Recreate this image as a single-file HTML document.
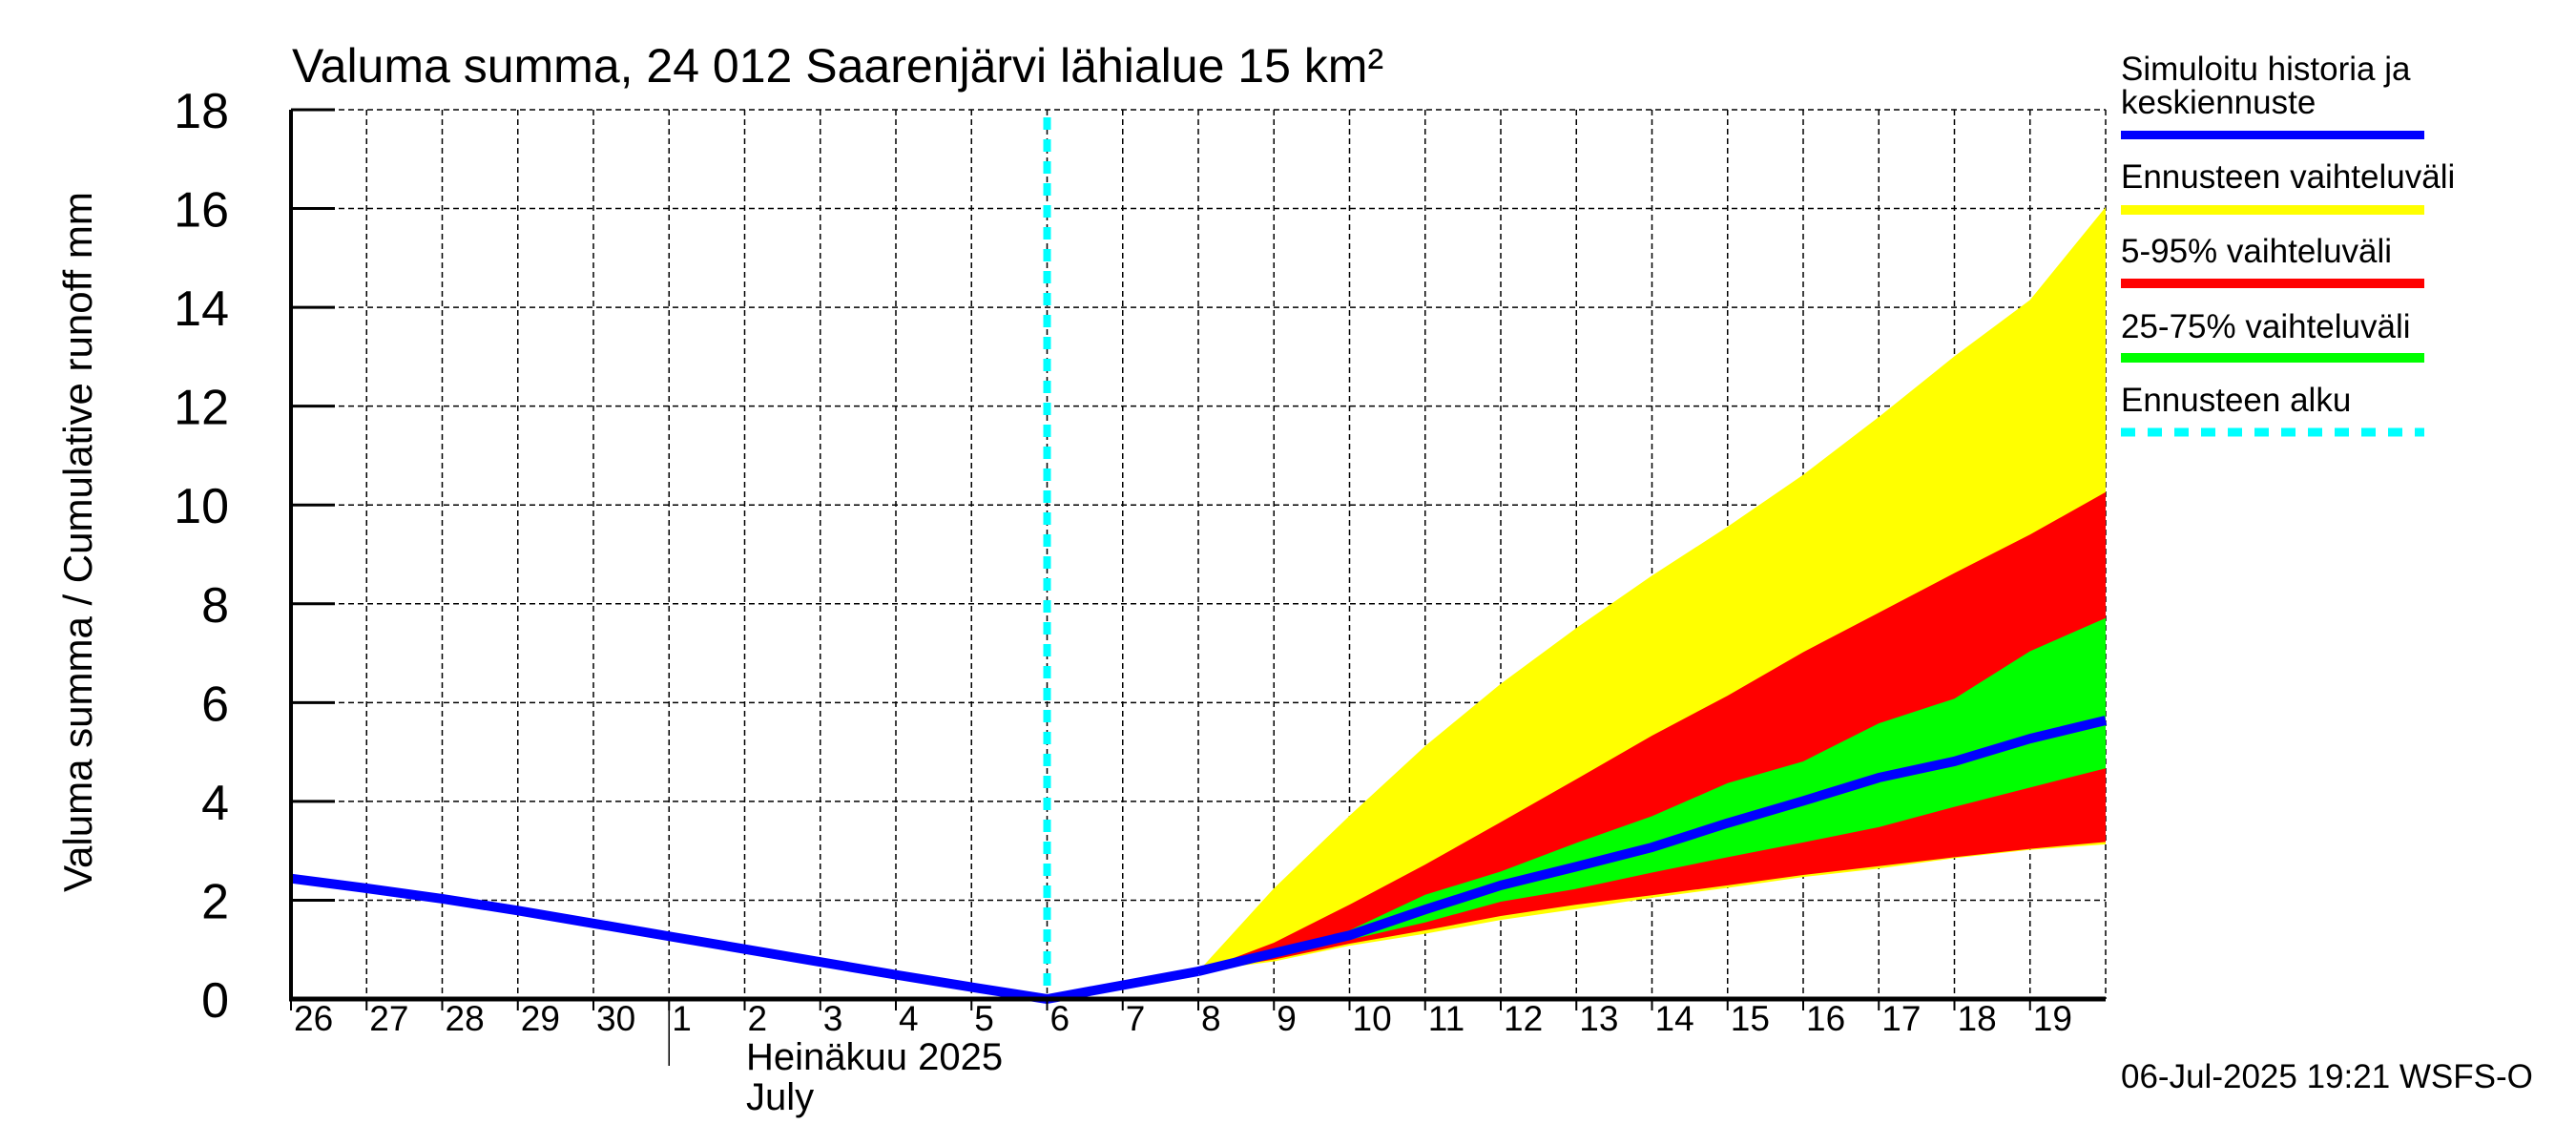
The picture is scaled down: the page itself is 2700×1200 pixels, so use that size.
<!DOCTYPE html>
<html><head><meta charset="utf-8"><style>
html,body{margin:0;padding:0;background:#fff;}
svg{display:block;font-family:"Liberation Sans",Arial,sans-serif;}
</style></head><body>
<svg id="chart" width="2700" height="1200" viewBox="0 0 2700 1200" xmlns="http://www.w3.org/2000/svg">
<text x="306" y="86" font-size="50">Valuma summa, 24 012 Saarenjärvi lähialue 15 km²</text>
<text transform="translate(96,568) rotate(-90)" text-anchor="middle" font-size="42">Valuma summa / Cumulative runoff    mm</text>
<g id="grid"></g>
<g id="bands"></g>
<g id="lines"></g>
<g id="axes"></g>
<g font-size="35">
<text x="2223" y="84">Simuloitu historia ja</text>
<text x="2223" y="119">keskiennuste</text>
<rect x="2223" y="137" width="318" height="9" fill="#0000ff"/>
<text x="2223" y="197">Ennusteen vaihteluväli</text>
<rect x="2223" y="215" width="318" height="10" fill="#ffff00"/>
<text x="2223" y="275">5-95% vaihteluväli</text>
<rect x="2223" y="292" width="318" height="10" fill="#ff0000"/>
<text x="2223" y="354">25-75% vaihteluväli</text>
<rect x="2223" y="370" width="318" height="10" fill="#00ff00"/>
<text x="2223" y="431">Ennusteen alku</text>
<line x1="2223" y1="453" x2="2541" y2="453" stroke="#00ffff" stroke-width="9" stroke-dasharray="15,13"/>
</g>
<text x="2223" y="1140" font-size="35">06-Jul-2025 19:21 WSFS-O</text>
<text x="782" y="1121" font-size="40">Heinäkuu  2025</text>
<text x="782" y="1163" font-size="40">July</text>
</svg>
<script>
// x axis: day index 0 = 26 Jun ... 24 = 20 Jul
const dayLabels = ["26","27","28","29","30","1","2","3","4","5","6","7","8","9","10","11","12","13","14","15","16","17","18","19"];
const yTicks = [0,2,4,6,8,10,12,14,16,18];
const histDays = [0,1,2,3,4,5,6,7,8,9,10,11,12];
const histValues = [2.44,2.24,2.03,1.79,1.53,1.27,1.01,0.75,0.49,0.24,0,0.28,0.56];
const fcDays = [12,13,14,15,16,17,18,19,20,21,22,23,24];
const fcMedian = [0.56,0.93,1.29,1.81,2.30,2.68,3.07,3.56,4.01,4.48,4.81,5.27,5.64];
const fcMax = [0.56,2.24,3.71,5.12,6.38,7.51,8.57,9.56,10.61,11.78,13.01,14.15,16.03];
const fcMin = [0.56,0.76,1.08,1.32,1.60,1.82,2.05,2.25,2.47,2.64,2.85,3.02,3.13];
const fcP95 = [0.56,1.14,1.91,2.72,3.58,4.45,5.33,6.14,7.02,7.82,8.62,9.40,10.26];
const fcP5 = [0.56,0.80,1.12,1.39,1.68,1.91,2.10,2.30,2.51,2.69,2.87,3.04,3.18];
const fcP75 = [0.56,0.98,1.39,2.11,2.58,3.16,3.70,4.37,4.81,5.58,6.08,7.04,7.71];
const fcP25 = [0.56,0.86,1.20,1.55,1.97,2.23,2.56,2.87,3.17,3.48,3.89,4.28,4.67];
const forecastStartDay = 10;

const X0=305,X1=2207,Y0=1047,Y1=115,DMAX=24,VMAX=18;
const sx=d=>X0+(X1-X0)*d/DMAX;
const sy=v=>Y0-(Y0-Y1)*v/VMAX;
const NS="http://www.w3.org/2000/svg";
function mk(tag,attrs,parent){const e=document.createElementNS(NS,tag);for(const k in attrs)e.setAttribute(k,attrs[k]);parent.appendChild(e);return e;}
const grid=document.getElementById('grid'),bands=document.getElementById('bands'),lines=document.getElementById('lines'),axes=document.getElementById('axes');

for(let d=1;d<=DMAX;d++){
  const g=mk('line',{x1:sx(d),y1:Y1,x2:sx(d),y2:Y0,stroke:'#000','stroke-width':1.5,'stroke-dasharray':'6,4'},grid);
  
  
}
yTicks.forEach(v=>{
  if(v===0)return;
  const g=mk('line',{x1:X0,y1:sy(v),x2:X1,y2:sy(v),stroke:'#000','stroke-width':1.5,'stroke-dasharray':'6,4'},grid);
  
  
});

function band(upper,lower,color,name){
  let pts=fcDays.map((d,i)=>sx(d)+','+sy(upper[i]));
  for(let i=fcDays.length-1;i>=0;i--)pts.push(sx(fcDays[i])+','+sy(lower[i]));
  const p=mk('polygon',{points:pts.join(' '),fill:color},bands);
  
  
}
band(fcMax,fcMin,'#ffff00','band-min-max');
band(fcP95,fcP5,'#ff0000','band-5-95');
band(fcP75,fcP25,'#00ff00','band-25-75');

const fs=mk('line',{x1:sx(forecastStartDay),y1:Y1+8,x2:sx(forecastStartDay),y2:Y0,stroke:'#00ffff','stroke-width':8,'stroke-dasharray':'13,10'},lines);



const hp=mk('polyline',{points:histDays.map((d,i)=>sx(d)+','+sy(histValues[i])).join(' '),fill:'none',stroke:'#0000ff','stroke-width':10,'stroke-linejoin':'round'},lines);


const mp=mk('polyline',{points:fcDays.map((d,i)=>sx(d)+','+sy(fcMedian[i])).join(' '),fill:'none',stroke:'#0000ff','stroke-width':10,'stroke-linejoin':'round'},lines);



const ax=mk('line',{x1:X0,y1:Y1,x2:X0,y2:Y0+2,stroke:'#000','stroke-width':4},axes);


const bx=mk('line',{x1:X0-2,y1:Y0,x2:X1,y2:Y0,stroke:'#000','stroke-width':5},axes);


yTicks.forEach(v=>{
  const t=mk('line',{x1:X0,y1:sy(v),x2:X0+46,y2:sy(v),stroke:'#000','stroke-width':3},axes);
  
  
  const l=mk('text',{x:240,y:sy(v)+19,'text-anchor':'end','font-size':52},axes);
  l.textContent=String(v);
  
  
});
dayLabels.forEach((lab,i)=>{
  const t=mk('line',{x1:sx(i),y1:Y0,x2:sx(i),y2:Y0+12,stroke:'#000','stroke-width':2},axes);
  
  
  const l=mk('text',{x:sx(i)+3,y:1080,'font-size':37},axes);
  l.textContent=lab;
  
  
});
const ms=mk('line',{x1:sx(5),y1:Y0,x2:sx(5),y2:1117,stroke:'#000','stroke-width':1.5},axes);


</script>
</body></html>
